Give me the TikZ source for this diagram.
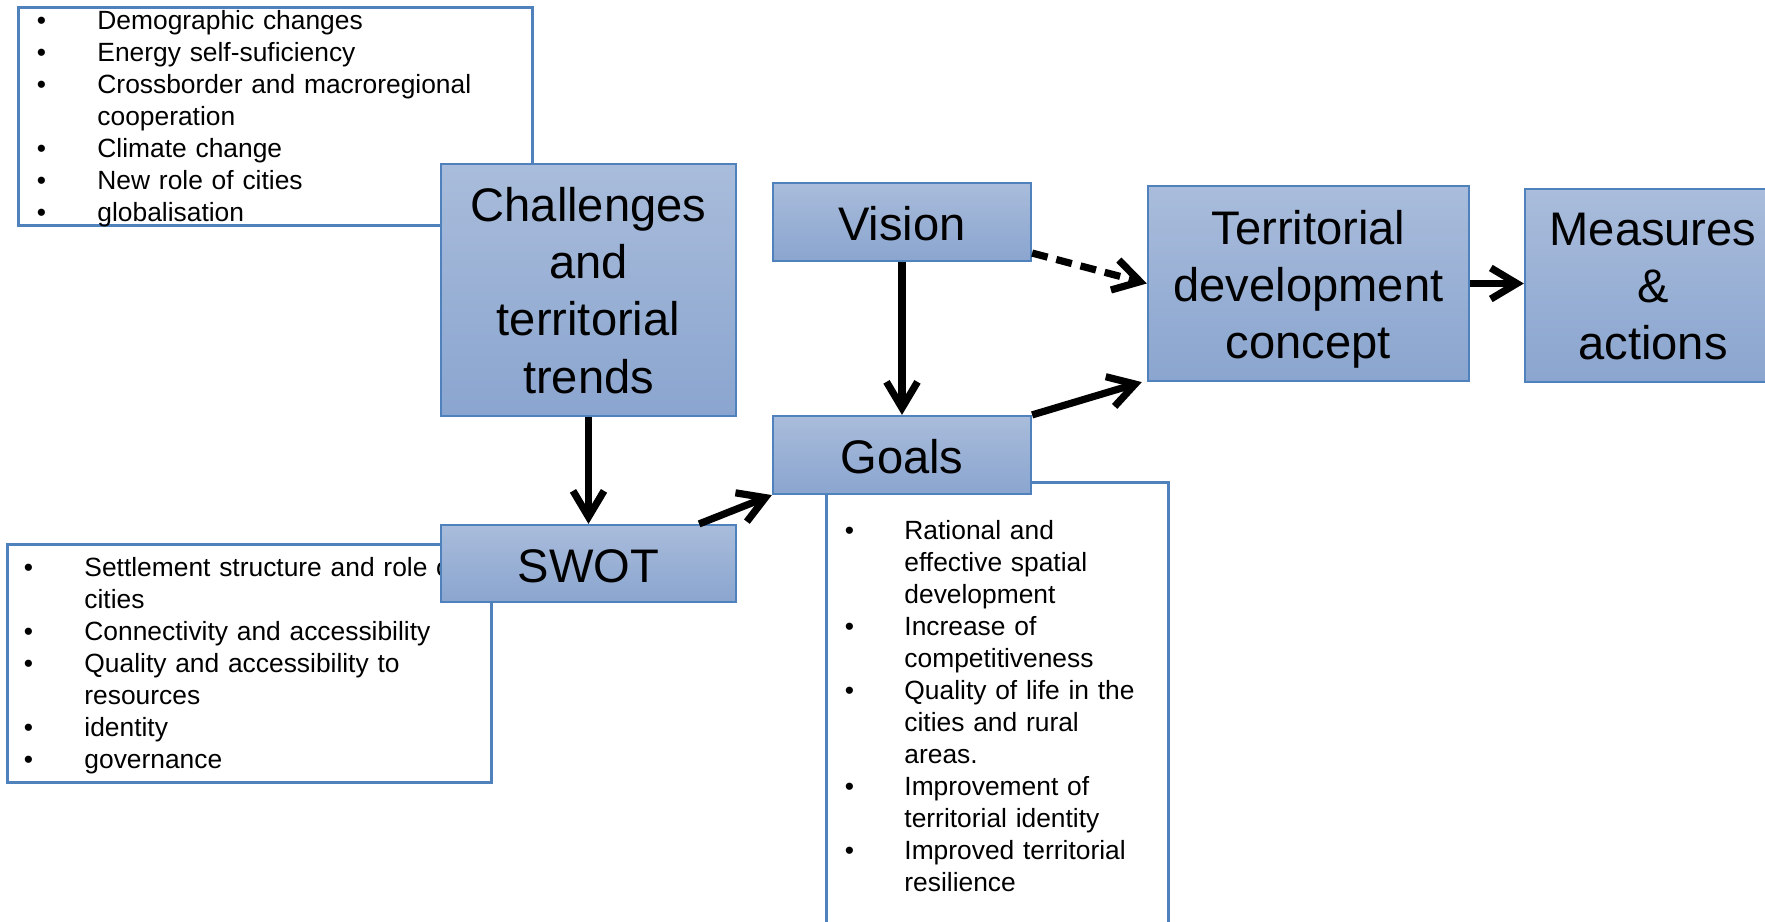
\documentclass[tikz,border=0pt]{standalone}
\usepackage{fontspec}
\setmainfont{Liberation Sans}
\usepackage{xcolor}
\usetikzlibrary{shapes, arrows.meta, positioning}

\definecolor{boxtop}{HTML}{A9BCDB}
\definecolor{boxbot}{HTML}{8AA5CF}
\definecolor{boxline}{HTML}{4F81BD}

% text lowered inside its box, without changing the box size
\newcommand{\lowered}[2]{\raisebox{-#1}[\height][\depth]{#2}}
\newcommand{\boxtext}[2][0.075cm]{\lowered{#1}{\begin{tabular}{@{}c@{}}#2\end{tabular}}}
\newcommand{\bul}{\hspace*{-0.045cm}\textbullet}

\tikzset{
    bigbox/.style={draw=boxline, line width=0.6pt, top color=boxtop, bottom color=boxbot,
        inner sep=0pt, font=\fontsize{13.4}{16.3}\selectfont},
    listbox/.style={draw=boxline, line width=0.8pt, anchor=north west, align=left,
        inner xsep=0.23cm, inner ysep=0pt, font=\fontsize{7.5}{9.1}\selectfont},
    flow/.style={line width=0.072cm, -{Straight Barb[length=0.26cm, width=0.31cm]}},
}

\begin{document}
\begin{tikzpicture}[x=0.01cm, y=-0.01cm]
    \useasboundingbox (0,0) rectangle (1765,922);

    % lists behind the boxes
    \node[listbox, text width=4.68cm, minimum width=5.14cm, minimum height=2.18cm, inner ysep=-0.04cm] (trendlist) at (17,6) {
        \lowered{0.03cm}{\begin{tabular}{@{}p{0.56cm}@{}l@{}}
            \bul & Demographic changes \\
            \bul & Energy self-suficiency \\
            \bul & Crossborder and macroregional \\
                 & cooperation \\
            \bul & Climate change \\
            \bul & New role of cities \\
            \bul & globalisation
        \end{tabular}}
    };
    \node[listbox, text width=4.42cm, minimum width=4.84cm, minimum height=2.38cm, inner xsep=0.21cm] (swotlist) at (6,543) {
        \lowered{0.03cm}{\begin{tabular}{@{}p{0.56cm}@{}l@{}}
            \bul & Settlement structure and role of \\
                 & cities \\
            \bul & Connectivity and accessibility \\
            \bul & Quality and accessibility to \\
                 & resources \\
            \bul & identity \\
            \bul & governance
        \end{tabular}}
    };
    \node[listbox, text width=2.96cm, inner ysep=0.32cm] (goallist) at (825,481) {
        \lowered{0.025cm}{\begin{tabular}{@{}p{0.55cm}@{}l@{}}
            \bul & Rational and \\
                 & effective spatial \\
                 & development \\
            \bul & Increase of \\
                 & competitiveness \\
            \bul & Quality of life in the \\
                 & cities and rural \\
                 & areas. \\
            \bul & Improvement of \\
                 & territorial identity \\
            \bul & Improved territorial \\
                 & resilience
        \end{tabular}}
    };

    % main boxes
    \node[bigbox, minimum width=2.95cm, minimum height=2.52cm] (trends) at (588.5,290) {\boxtext[0.057cm]{Challenges\\and\\territorial\\trends}};
    \node[bigbox, minimum width=2.95cm, minimum height=0.77cm] (swot) at (588.5,563.5) {\boxtext{SWOT}};
    \node[bigbox, minimum width=2.58cm, minimum height=0.78cm] (vision) at (902,222) {\boxtext{Vision}};
    \node[bigbox, minimum width=2.58cm, minimum height=0.78cm] (goals) at (902,455) {\boxtext{Goals}};
    \node[bigbox, minimum width=3.21cm, minimum height=1.95cm] (concept) at (1308.5,283.5) {\boxtext[0.065cm]{Territorial\\development\\concept}};
    \node[bigbox, minimum width=2.56cm, minimum height=1.93cm] (measures) at (1653,285.5) {\boxtext[0.055cm]{Measures\\\&\\actions}};

    % connectors
    \draw[flow] (trends.south) -- (swot.north);
    \draw[flow] (vision.south) -- (goals.north);
    \draw[flow] ([xshift=-0.38cm]swot.north east) -- (goals.south west);
    \draw[flow] (goals.north east) -- ([xshift=-0.05cm]concept.south west);
    \draw[flow, dash pattern=on 0.16cm off 0.09cm] ([yshift=0.09cm]vision.south east) -- (concept.west);
    \draw[flow] (concept.east) -- (concept.east -| measures.west);
\end{tikzpicture}
\end{document}
